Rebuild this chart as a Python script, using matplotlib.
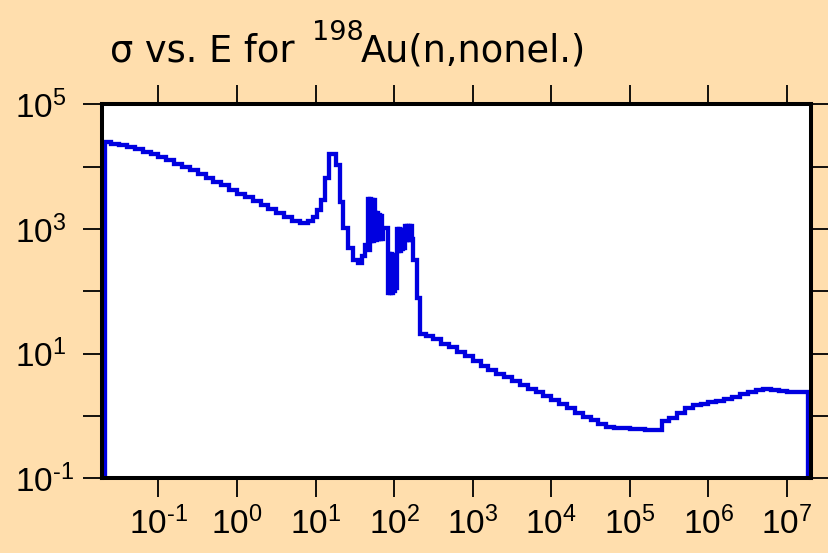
import matplotlib

matplotlib.use("Agg")
import matplotlib.pyplot as plt  # noqa: E402

plt.rcParams["font.family"] = ["Liberation Sans", "DejaVu Sans"]
plt.rcParams["mathtext.fontset"] = "custom"
plt.rcParams["mathtext.rm"] = "Liberation Sans"
plt.rcParams["mathtext.it"] = "Liberation Sans:italic"
plt.rcParams["mathtext.bf"] = "Liberation Sans:bold"
plt.rcParams["mathtext.default"] = "regular"

PEACH = "#FFDEAD"
BLUE = "#0000E0"
W, H = 829, 553

# group left edges [eV] and cross section [b]; last edge closes the final group
# thermal 1/v region
e_thermal = [0.0212, 0.0251, 0.0316, 0.0398, 0.0501, 0.0631, 0.0794, 0.100,
             0.126, 0.158, 0.200, 0.251, 0.316, 0.398, 0.501, 0.631, 0.794,
             1.00, 1.26, 1.58, 2.00, 2.51, 3.16, 3.98, 5.01]
s_thermal = [24500, 23400, 21900, 20400, 19100, 17400, 15800, 14100,
             12600, 11200, 10000, 8700, 7600, 6600, 5750, 5000, 4270,
             3700, 3240, 2800, 2400, 2090, 1780, 1550, 1350]

# first resolved resonance and the valley after it
e_reson = [6.31, 7.94, 9.33, 10.5, 11.7, 13.2, 14.8, 18.2, 20.4, 22.4, 25.7,
           30.2, 34.7, 38.9, 42.7]
s_reson = [1230, 1320, 1550, 2000, 2880, 6460, 15800, 10500, 2700, 1020, 490,
           316, 282, 363, 550]

# dense resonance clusters between ~45 and ~200 eV
e_cluster = [46.5, 47.9, 49.3, 50.7, 52.3, 53.8, 55.4, 57.1, 58.8, 60.5,
             62.3, 64.2, 66.1, 68.1, 70.1, 72.2,
             83.5, 86.0, 88.6, 91.2, 94.0, 96.7, 99.6, 102.6, 105.6,
             108.7, 112.0, 115.3, 118.8, 122.3, 125.9, 129.7, 133.4,
             137.4, 141.5, 145.7, 150.1, 154.5, 159.1, 163.9, 168.7,
             173.8, 195.0]
s_cluster = [3020, 460, 3020, 650, 2950, 650, 2880, 1780, 660, 1780,
             680, 1700, 680, 1620, 700, 1020,
             95, 400, 95, 400, 95, 380, 100, 360, 115,
             1000, 447, 1000, 447, 980, 470, 960, 500,
             1120, 660, 1120, 660, 1100, 660, 1100, 680,
             316, 79]

# smooth continuum up to 20 MeV
e_fast = [213, 251, 316, 398, 501, 631, 794, 1.00e3, 1.26e3, 1.58e3, 2.00e3,
          2.51e3, 3.16e3, 3.98e3, 5.01e3, 6.31e3, 7.94e3, 1.00e4, 1.26e4,
          1.58e4, 2.00e4, 2.51e4, 3.16e4, 3.98e4, 5.01e4, 6.31e4, 7.94e4,
          1.00e5, 1.26e5, 1.58e5, 2.00e5, 2.57e5, 3.16e5, 3.98e5, 5.01e5,
          6.31e5, 7.94e5, 1.00e6, 1.26e6, 1.58e6, 2.00e6, 2.51e6, 3.16e6,
          3.98e6, 5.01e6, 6.31e6, 7.94e6, 1.00e7, 1.26e7, 1.58e7]
s_fast = [20.4, 19.5, 17.0, 14.5, 12.6, 10.7, 9.12, 7.59, 6.31, 5.50, 4.79,
          4.17, 3.63, 3.16, 2.75, 2.40, 2.09, 1.82, 1.55,
          1.32, 1.12, 0.977, 0.851, 0.741, 0.676, 0.646, 0.631,
          0.617, 0.617, 0.603, 0.603, 0.832, 0.933, 1.12, 1.32,
          1.48, 1.58, 1.66, 1.74, 1.86, 2.04, 2.24, 2.40,
          2.57, 2.69, 2.63, 2.51, 2.45, 2.45, 2.40]
e_top = 1.85e7
s_floor = 1e-2

energy = ([e_thermal[0]] + e_thermal + e_reson + e_cluster + e_fast
          + [e_top, e_top])
sigma = ([s_floor] + s_thermal + s_reson + s_cluster + s_fast
         + [s_fast[-1], s_floor])

xticks = [1e-1, 1e0, 1e1, 1e2, 1e3, 1e4, 1e5, 1e6, 1e7]
xlabels = [r"$10^{\text{-1}}$", r"$10^{0}$", r"$10^{1}$", r"$10^{2}$",
           r"$10^{3}$", r"$10^{4}$", r"$10^{5}$", r"$10^{6}$", r"$10^{7}$"]
yticks = [1e-1, 1e0, 1e1, 1e2, 1e3, 1e4, 1e5]
ylabels = [r"$10^{\text{-1}}$", "", r"$10^{1}$", "", r"$10^{3}$", "",
           r"$10^{5}$"]

fig = plt.figure(figsize=(W / 100, H / 100), dpi=100, facecolor=PEACH)
ax = fig.add_axes([0.1236, 0.1351, 0.8547, 0.6763])
ax.set_facecolor("white")

ax.plot(energy, sigma, drawstyle="steps-post", color=BLUE, lw=3.1,
        solid_joinstyle="miter")

ax.set_xscale("log")
ax.set_yscale("log")
ax.set_xlim(0.0194, 2.02e7)
ax.set_ylim(1e-1, 1e5)
ax.minorticks_off()
ax.set_xticks(xticks, xlabels)
ax.set_yticks(yticks, ylabels)

for sp in ax.spines.values():
    sp.set_linewidth(2.9)
    sp.set_zorder(3)
ax.tick_params(which="major", direction="out", length=13.7, width=1.3,
               top=True, right=True, labelsize=24)
ax.tick_params(axis="x", pad=6.5)
ax.tick_params(axis="y", pad=49.3)
for lbl in ax.get_yticklabels():
    lbl.set_horizontalalignment("left")
    lbl.set_verticalalignment("center_baseline")

# title: sigma vs. E for 198Au(n,nonel.), mass number set as a raised prefix
title_kw = dict(family="DejaVu Sans", ha="left", va="baseline")
fig.text(110 / W, 1 - 61.5 / H, "σ vs. E for", fontsize=26.5, **title_kw)
fig.text(312 / W, 1 - 40 / H, "198", fontsize=19.5, **title_kw)
fig.text(361 / W, 1 - 61.5 / H, "Au(n,nonel.)", fontsize=26.5, **title_kw)

fig.savefig("out.png", dpi=100, facecolor=PEACH)
